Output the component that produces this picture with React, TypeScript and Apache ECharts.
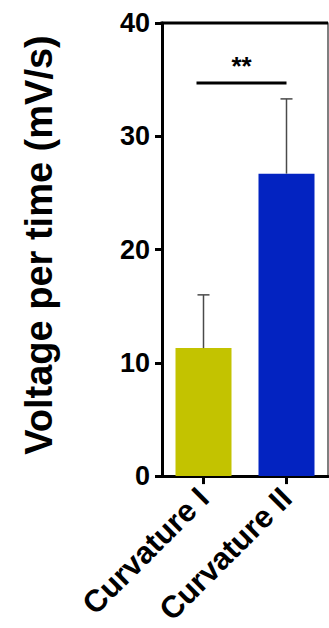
import React, { useEffect, useRef } from "react";
import * as echarts from "echarts";

const categories = ["Curvature I", "Curvature II"];
const means = [11.3, 26.7];
const errors = [4.7, 6.6];
const barColors = ["#c3c300", "#0323c1"];
const yMin = 0;
const yMax = 40;
const yInterval = 10;
const sigPair = [0, 1];
const sigY = 34.7;
const sigLabel = "**";
const yTitle = "Voltage per time (mV/s)";

const FONT = "'Liberation Sans', Arial, Helvetica, sans-serif";

const GRID_LEFT = 162;
const GRID_TOP = 23;
const GRID_W = 166;
const GRID_H = 454;

export default function App() {
  const ref = useRef<HTMLDivElement>(null);
  useEffect(() => {
    if (!ref.current) return;
    const chart = echarts.init(ref.current, null, { renderer: "svg" });
    const option: any = {
      animation: false,
      backgroundColor: "#ffffff",
      grid: { left: GRID_LEFT, top: GRID_TOP, width: GRID_W, height: GRID_H, containLabel: false },
      xAxis: [
        {
          type: "category",
          data: categories,
          position: "bottom",
          axisLine: { onZero: false, lineStyle: { color: "#000", width: 3 } },
          axisTick: { show: true, alignWithLabel: true, length: 8, lineStyle: { color: "#000", width: 3 } },
          axisLabel: {
            rotate: 45,
            margin: 17,
            color: "#000",
            fontFamily: FONT,
            fontWeight: "bold",
            fontSize: 31,
            interval: 0,
          },
        },
      ],
      yAxis: [
        {
          type: "value",
          min: yMin,
          max: yMax,
          interval: yInterval,
          position: "left",
          axisLine: { show: true, onZero: false, lineStyle: { color: "#000", width: 3 } },
          axisTick: { show: true, length: 7, lineStyle: { color: "#000", width: 3 } },
          splitLine: { show: false },
          axisLabel: {
            margin: 12,
            color: "#000",
            fontFamily: FONT,
            fontWeight: "bold",
            fontSize: 27,
          },
        },
        {
          type: "value",
          min: yMin,
          max: yMax,
          interval: yInterval,
          position: "right",
          axisLine: { show: true, onZero: false, lineStyle: { color: "#555", width: 1.5 } },
          axisTick: { show: false },
          axisLabel: { show: false },
          splitLine: { show: false },
        },
      ],
      graphic: [
        {
          type: "line",
          shape: { x1: GRID_LEFT - 1.5, y1: GRID_TOP, x2: GRID_LEFT + GRID_W, y2: GRID_TOP },
          style: { stroke: "#000", lineWidth: 3 },
          z: 10,
        },
        {
          type: "text",
          x: 39,
          y: 245,
          rotation: Math.PI / 2,
          style: {
            text: yTitle,
            fill: "#000",
            font: `bold 38px ${FONT}`,
            align: "center",
            verticalAlign: "middle",
          },
        },
      ],
      series: [
        {
          type: "bar",
          barWidth: 56,
          data: means.map((v, i) => ({ value: v, itemStyle: { color: barColors[i] } })),
        },
        {
          type: "custom",
          data: means.map((m, i) => [i, m, errors[i]]),
          encode: { x: 0, y: 1 },
          z: 5,
          renderItem: (params: any, api: any) => {
            const base = api.coord([api.value(0), api.value(1)]);
            const top = api.coord([api.value(0), api.value(1) + api.value(2)]);
            const style = { stroke: "#4a4a4a", lineWidth: 1.5 };
            return {
              type: "group",
              children: [
                { type: "line", shape: { x1: base[0], y1: base[1], x2: top[0], y2: top[1] }, style },
                { type: "line", shape: { x1: top[0] - 6, y1: top[1], x2: top[0] + 6, y2: top[1] }, style },
              ],
            };
          },
        },
        {
          type: "custom",
          data: [[sigPair[0], sigPair[1], sigY]],
          encode: { x: 0, y: 2 },
          z: 5,
          renderItem: (params: any, api: any) => {
            const p0 = api.coord([api.value(0), api.value(2)]);
            const p1 = api.coord([api.value(1), api.value(2)]);
            return {
              type: "group",
              children: [
                {
                  type: "line",
                  shape: { x1: p0[0] - 7, y1: p0[1], x2: p1[0], y2: p1[1] },
                  style: { stroke: "#000", lineWidth: 3 },
                },
                {
                  type: "text",
                  x: (p0[0] - 7 + p1[0]) / 2,
                  y: p0[1] - 4,
                  style: {
                    text: sigLabel,
                    fill: "#000",
                    font: `bold 26px ${FONT}`,
                    align: "center",
                    verticalAlign: "bottom",
                  },
                },
              ],
            };
          },
        },
      ],
    };
    chart.setOption(option);
    return () => chart.dispose();
  }, []);
  return (
    <div
      ref={ref}
      style={{ position: "absolute", left: 0, top: 0, width: 329, height: 628 }}
    />
  );
}
